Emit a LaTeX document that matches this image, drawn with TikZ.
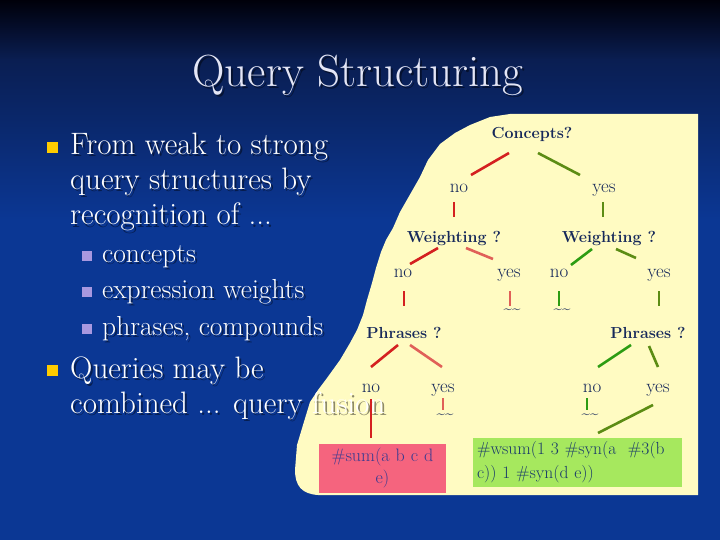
\documentclass[tikz,border=0pt]{standalone}
\usepackage{fontspec}
\usetikzlibrary{calc}
\definecolor{bgtop}{HTML}{00000A}
\definecolor{bgmid}{HTML}{0A1E52}
\definecolor{bgblue}{HTML}{0B3794}
\definecolor{paper}{HTML}{FFFBC2}
\definecolor{navy}{HTML}{16285A}
\definecolor{lred}{HTML}{D42020}
\definecolor{lsalmon}{HTML}{E06058}
\definecolor{lgreen}{HTML}{2C9C12}
\definecolor{lolive}{HTML}{5C8C14}
\definecolor{pinkbox}{HTML}{F5647E}
\definecolor{greenbox}{HTML}{A6E85E}
\definecolor{pinktext}{HTML}{3A3A90}
\definecolor{greentext}{HTML}{1A3A6A}
\definecolor{ybullet}{HTML}{FFCC00}
\definecolor{vbullet}{HTML}{A898E0}
\definecolor{titlecol}{HTML}{E4E6F6}
\newcommand{\shtext}[4]{%
  \node[#3, text=black, text opacity=0.45] at ($#2+(2,2)$) {#4};
  \node[#3] (#1) at #2 {#4};}
\begin{document}
\begin{tikzpicture}[x=1pt,y=-1pt,
  lbl/.style={anchor=base, inner sep=0pt, text height=12pt, text depth=4pt, text=navy, font=\fontsize{19}{22}\selectfont},
  qlbl/.style={lbl, font=\bfseries\fontsize{16}{19}\selectfont},
  tld/.style={inner sep=0pt, text=navy, font=\bfseries\fontsize{15}{18}\selectfont},
  conn/.style={line width=2.6pt},
  bul/.style={anchor=base west, inner sep=0pt, text=white, font=\fontsize{31}{35}\selectfont},
  subbul/.style={bul, font=\fontsize{27.5}{31}\selectfont},
  ttl/.style={anchor=base, inner sep=0pt, text=titlecol, font=\fontsize{45}{52}\selectfont},
  sumbox/.style={fill=pinkbox, inner sep=0pt, minimum width=127pt, minimum height=49pt, text width=122pt, align=center, text=pinktext, font=\fontsize{18}{22}\selectfont},
  wsumbox/.style={fill=greenbox, inner xsep=4pt, inner ysep=0pt, minimum width=209pt, minimum height=49pt, text width=201pt, align=left, text=greentext, font=\fontsize{17.5}{24}\selectfont}
]
\useasboundingbox (0,0) rectangle (720,540);
% background
\fill[bgblue] (0,0) rectangle (720,540);
\shade[top color=bgtop, bottom color=bgmid] (0,0) rectangle (720,60);
\shade[top color=bgmid, bottom color=bgblue] (0,59.5) rectangle (720,220);
% yellow paper
\fill[paper] (510,114) -- (698,114) -- (698,495) -- (318,495)
  .. controls (302,494) and (295,486) .. (295,470)
  -- (297,445) -- (303,425) -- (310,402) -- (318,390) -- (327,378) -- (340,360)
  -- (350,343) -- (357,330) -- (363,315) -- (367,300) -- (372,283) -- (376,268)
  -- (381,252) -- (386,240) -- (393,228) -- (400,212) -- (408,198) -- (420,177)
  -- (428,160) -- (440,144) -- (455,133) -- (470,125) -- (490,117) -- cycle;
% title
\shtext{title}{(358,87)}{ttl}{Query Structuring}
% bullets
\fill[ybullet] (47,142) rectangle (58,153);
\fill[ybullet] (47,365) rectangle (58,376);
\fill[vbullet] (82,251) rectangle (92,261);
\fill[vbullet] (82,287) rectangle (92,297);
\fill[vbullet] (82,324) rectangle (92,334);
\shtext{b1}{(70,155)}{bul}{From weak to strong}
\shtext{b2}{(70,190)}{bul}{query structures by}
\shtext{b3}{(70,225)}{bul}{recognition of ...}
\shtext{s1}{(102,262)}{subbul}{concepts}
\shtext{s2}{(102,298)}{subbul}{expression weights}
\shtext{s3}{(102,335)}{subbul}{phrases, compounds}
\shtext{b4}{(70,378)}{bul}{Queries may be}
\shtext{b5}{(70,413)}{bul}{combined ... query fusion}
% tree nodes
\node[qlbl] (concepts) at (532,139) {Concepts?};
\node[lbl] (no1) at (459,193) {no};
\node[lbl] (yes1) at (604,193) {yes};
\node[qlbl] (wL) at (454,242) {Weighting ?};
\node[qlbl] (wR) at (609,242) {Weighting ?};
\node[lbl] (no2) at (403,277) {no};
\node[lbl] (yes2) at (509,277) {yes};
\node[lbl] (no3) at (559,277) {no};
\node[lbl] (yes3) at (659,277) {yes};
\node[tld] (t1) at (512,311) {\textasciitilde\textasciitilde};
\node[tld] (t2) at (562,311) {\textasciitilde\textasciitilde};
\node[qlbl] (pL) at (404,338) {Phrases ?};
\node[qlbl] (pR) at (648,338) {Phrases ?};
\node[lbl] (no4) at (371,392) {no};
\node[lbl] (yes4) at (443,392) {yes};
\node[lbl] (no5) at (592,392) {no};
\node[lbl] (yes5) at (658,392) {yes};
\node[tld] (t3) at (445,416) {\textasciitilde\textasciitilde};
\node[tld] (t4) at (590,416) {\textasciitilde\textasciitilde};
\node[sumbox] (sum) at (382.5,468.5) {\#sum(a b c d\\e)};
\node[wsumbox] (wsum) at (577.5,462.5) {\#wsum(1 3 \#syn(a~ \#3(b\\c)) 1 \#syn(d e))};
% connectors
\draw[conn,lred] ($(concepts)+(-23,18)$) -- ($(no1)+(12,-14)$);
\draw[conn,lolive] ($(concepts)+(6,18)$) -- ($(yes1)+(-24,-14)$);
\draw[conn,lred] ($(no1)+(-5,13)$) -- ($(wL)+(0,-21)$);
\draw[conn,lolive] ($(yes1)+(-1,13)$) -- ($(wR)+(-6,-21)$);
\draw[conn,lred] ($(wL)+(-16,10)$) -- ($(no2)+(7,-9)$);
\draw[conn,lsalmon] ($(wL)+(12,10)$) -- ($(yes2)+(-16,-14)$);
\draw[conn,lgreen] ($(wR)+(-17,11)$) -- ($(no3)+(12,-8)$);
\draw[conn,lolive] ($(wR)+(7,11)$) -- ($(yes3)+(-23,-15)$);
\draw[conn,lred] ($(no2)+(1,18)$) -- ($(pL)+(0,-28)$);
\draw[conn,lsalmon] ($(yes2)+(1,18)$) -- ($(t1)+(-2,-5)$);
\draw[conn,lgreen] ($(no3)+(0,18)$) -- ($(t2)+(-3,-5)$);
\draw[conn,lolive] ($(yes3)+(0,18)$) -- ($(pR)+(11,-28)$);
\draw[conn,lred] ($(pL)+(-6,11)$) -- ($(no4)+(0,-21)$);
\draw[conn,lsalmon] ($(pL)+(6,11)$) -- ($(yes4)+(-1,-21)$);
\draw[conn,lgreen] ($(pR)+(-17,11)$) -- ($(no5)+(6,-21)$);
\draw[conn,lolive] ($(pR)+(1,12)$) -- ($(yes5)+(0,-21)$);
\draw[conn,lred] ($(no4)+(0,11)$) -- ($(sum)+(-11.5,-30.5)$);
\draw[conn,lsalmon] ($(yes4)+(0,10)$) -- ($(t3)+(-2,-6)$);
\draw[conn,lgreen] ($(no5)+(-5,10)$) -- ($(t4)+(-3,-6)$);
\draw[conn,lolive] ($(yes5)+(-5,17)$) -- ($(wsum)+(20.5,-29.5)$);
\end{tikzpicture}
\end{document}
